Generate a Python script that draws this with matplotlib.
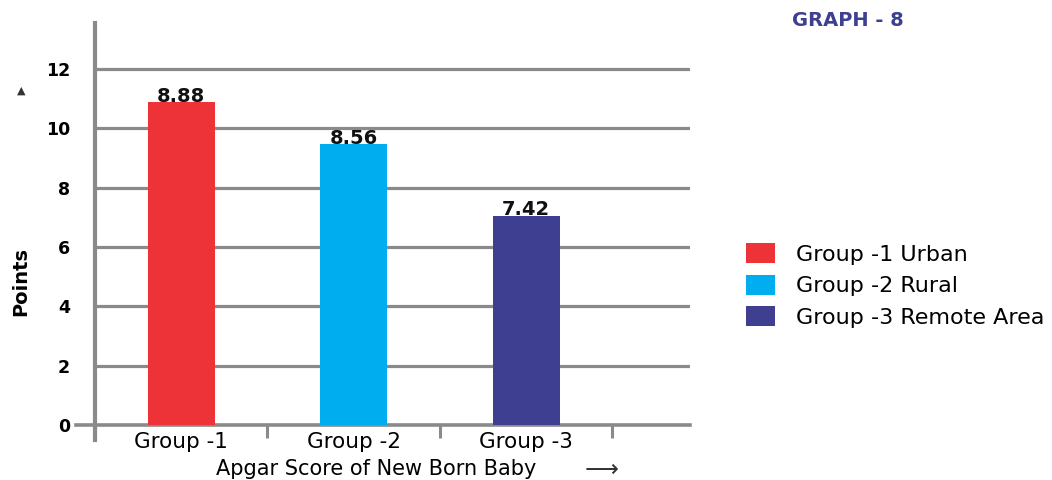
import matplotlib
matplotlib.use("Agg")
import matplotlib.pyplot as plt

plt.rcParams['font.family'] = ['DejaVu Sans']

# data
groups = ["Group -1", "Group -2", "Group -3"]
legend_names = ["Group -1 Urban", "Group -2 Rural", "Group -3 Remote Area"]
bar_heights = [10.88, 9.46, 7.06]
value_labels = ["8.88", "8.56", "7.42"]
colors = ["#EE3338", "#00AEEF", "#3E3F91"]
yticks = [0, 2, 4, 6, 8, 10, 12]

grey = "#8a8a8a"

fig = plt.figure(figsize=(10.52, 4.80), dpi=100)
ax = fig.add_axes([0.0903, 0.0833, 0.5657, 0.8687])

xs = range(len(groups))
bars = ax.bar(xs, bar_heights, width=0.39, color=colors, zorder=3)

for b, lab in zip(bars, value_labels):
    ax.text(b.get_x() + b.get_width() / 2, b.get_height() + 0.02, lab,
            ha='center', va='baseline', fontsize=14, fontweight='bold',
            color='#111111', zorder=4)

# gridlines (not the zero line, that's the spine)
for y in yticks[1:]:
    ax.axhline(y, color=grey, lw=2.3, zorder=1)

ax.set_xlim(-0.5, 2.95)
ax.set_ylim(-0.5, 13.55)

for s in ['top', 'right']:
    ax.spines[s].set_visible(False)
ax.spines['left'].set_color(grey)
ax.spines['left'].set_linewidth(3)
ax.spines['bottom'].set_position(('data', 0))
ax.spines['bottom'].set_bounds(-0.61, 2.95)
ax.spines['bottom'].set_color(grey)
ax.spines['bottom'].set_linewidth(2.6)
ax.spines['bottom'].set_zorder(2)

ax.set_yticks(yticks)
ax.set_yticklabels([str(v) for v in yticks], fontsize=12.5, fontweight='bold')
ax.tick_params(axis='y', length=0, pad=18)

ax.set_xticks([-0.5, 0.5, 1.5, 2.5])
ax.set_xticklabels([])
ax.tick_params(axis='x', which='major', length=9, width=2.2, color=grey, direction='out')
ax.set_xticks(list(xs), minor=True)
ax.set_xticklabels(groups, minor=True, fontsize=15.5)
ax.tick_params(axis='x', which='minor', length=0, pad=5)

# axis title sits at the very bottom edge
fig.text(0.358, 0.003, "Apgar Score of New Born Baby", fontsize=15,
         ha='center', va='bottom')
fig.text(0.572, 0.022, "\u27f6", fontsize=17, color='#333333', ha='center', va='center')

fig.text(0.02, 0.413, "Points", rotation=90, fontsize=14, fontweight='bold',
         ha='center', va='center', family=['Liberation Sans Narrow', 'DejaVu Sans'])
fig.text(0.02, 0.812, "\u25b2", fontsize=8, color='#333333', ha='center', va='center')

fig.text(0.806, 0.957, "GRAPH - 8", fontsize=14, fontweight='bold', color='#3E3F91',
         ha='center', va='center')

fig.legend(bars, legend_names, loc='upper left', bbox_to_anchor=(0.69, 0.535),
           frameon=False, fontsize=16, handlelength=1.3, handleheight=1.0,
           labelspacing=0.45, handletextpad=0.95)

fig.savefig("out.png", dpi=100)
